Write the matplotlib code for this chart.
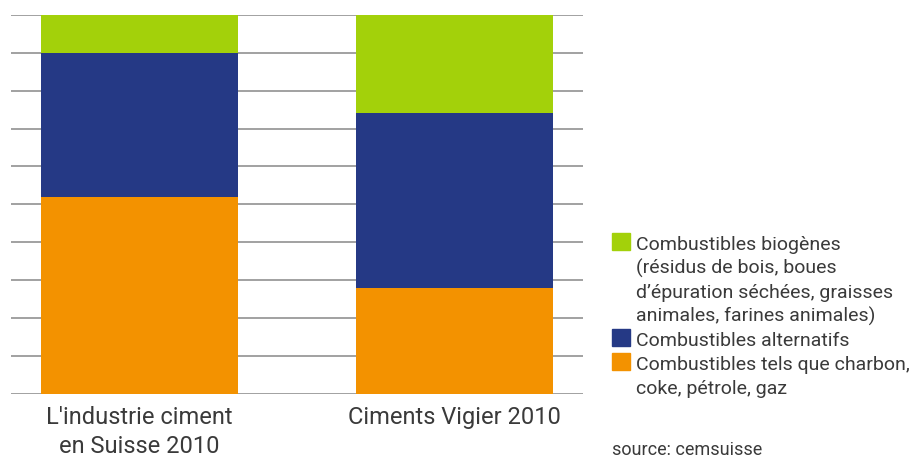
import matplotlib
matplotlib.use("Agg")
import matplotlib.pyplot as plt
from matplotlib.patches import Rectangle

categories = ["L'industrie ciment\nen Suisse 2010", "Ciments Vigier 2010"]
fossil = [52, 28]       # Combustibles tels que charbon, coke, pétrole, gaz
alternative = [38, 46]  # Combustibles alternatifs
biogenic = [10, 26]     # Combustibles biogènes
series_labels = [
    "Combustibles biogènes\n(résidus de bois, boues\nd’épuration séchées, graisses\nanimales, farines animales)",
    "Combustibles alternatifs",
    "Combustibles tels que charbon,\ncoke, pétrole, gaz",
]
colors = ["#A3D10A", "#253985", "#F39200"]
source_text = "source: cemsuisse"

plt.rcParams['font.family'] = ['Roboto', 'DejaVu Sans']
W, H = 923, 472
fig = plt.figure(figsize=(W / 100, H / 100), dpi=100)
ax = fig.add_axes([11 / W, 1 - 393.7 / H, (583 - 11) / W, (393.7 - 15) / H])

x = list(range(len(categories)))
bw = 0.625
ax.bar(x, fossil, width=bw, color=colors[2], zorder=2)
ax.bar(x, alternative, width=bw, bottom=fossil, color=colors[1], zorder=2)
bottom2 = [a + b for a, b in zip(fossil, alternative)]
ax.bar(x, biogenic, width=bw, bottom=bottom2, color=colors[0], zorder=2)

ax.set_xlim(-0.408, 1.408)
ax.set_ylim(0, 100)
ax.set_yticks(range(0, 101, 10))
ax.yaxis.grid(True, color="#9a9a9a", linewidth=1.3)
ax.set_axisbelow(True)
ax.tick_params(axis='y', length=0, labelleft=False)
ax.set_xticks(x)
ax.set_xticklabels(categories, fontsize=17, color="#3a3a3a", linespacing=1.3)
ax.tick_params(axis='x', length=0, pad=9)
for s in ax.spines.values():
    s.set_visible(False)

# legend (manual)
baseline0 = 250
step = 24
line = 0
text_color = "#3a3a3a"
for lab, col in zip(series_labels, colors):
    first_base = baseline0 + line * step
    fig.patches.append(Rectangle((612 / W, 1 - first_base / H), 18 / W, 17.5 / H,
                                 transform=fig.transFigure, color=col, figure=fig))
    for part in lab.split("\n"):
        b = baseline0 + line * step
        fig.text(636 / W, 1 - b / H, part, fontsize=14, color=text_color,
                 va='baseline', ha='left')
        line += 1

fig.text(612 / W, 1 - 455 / H, source_text, fontsize=13, color=text_color,
         va='baseline', ha='left')

fig.savefig("out.png", dpi=100)
